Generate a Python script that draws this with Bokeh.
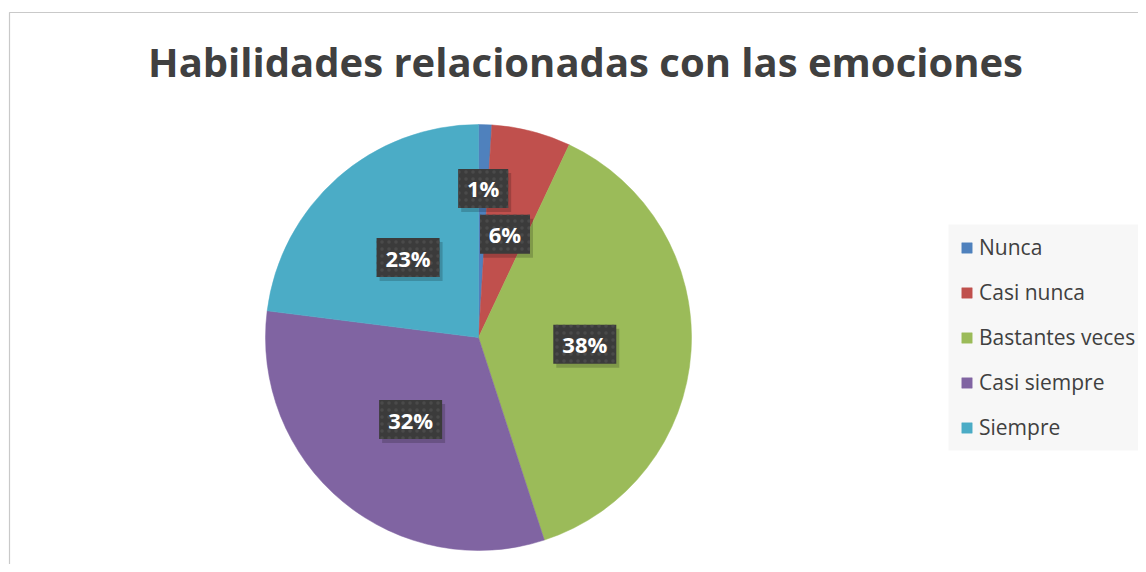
import numpy as np
from bokeh.plotting import figure
from bokeh.models import ColumnDataSource, Legend, LegendItem, Range1d
from bokeh.core.properties import value
from bokeh.embed import file_html
from bokeh.resources import INLINE

title = "Habilidades relacionadas con las emociones"
categories = ["Nunca", "Casi nunca", "Bastantes veces", "Casi siempre", "Siempre"]
percent = [1, 6, 38, 32, 23]
labels = ["1%", "6%", "38%", "32%", "23%"]
colors = ["#4F81BD", "#C0504D", "#9BBB59", "#8064A2", "#4BACC6"]
label_radius_frac = [0.70, 0.5, 0.5, 0.5, 0.5]

W, H = 1138, 564
p = figure(width=W, height=H, output_backend="svg", toolbar_location=None,
           x_range=Range1d(0, W), y_range=Range1d(0, H), min_border=0)
p.axis.visible = False
p.grid.visible = False
p.outline_line_color = None
p.background_fill_color = "white"
p.border_fill_color = "white"

# chart border
p.quad(left=[9], right=[W + 10], bottom=[-10], top=[552], fill_color=None,
       line_color="#c9c9c9", line_width=1.2)

# legend background panel
p.quad(left=[948], right=[W + 10], bottom=[114], top=[340], fill_color="#f7f7f7",
       line_color=None)

cx, cy, R = 478.0, 227.0, 213.0
vals = np.array(percent, dtype=float)
frac = vals / vals.sum()
cum_after = np.cumsum(frac)
cum_before = cum_after - frac
start = np.pi / 2 - 2 * np.pi * cum_before
end = np.pi / 2 - 2 * np.pi * cum_after
mid = (start + end) / 2

src = ColumnDataSource(dict(x=[cx] * len(vals), y=[cy] * len(vals), start=start, end=end,
                            color=colors, cat=categories))
wr = p.wedge(x="x", y="y", radius=R, start_angle="start", end_angle="end",
             direction="clock", fill_color="color", line_color="color", line_width=0.5,
             source=src)

lr = np.array(label_radius_frac) * R
lx = cx + lr * np.cos(mid)
ly = cy + lr * np.sin(mid)
bw = [24 + 13 * len(t) for t in labels]
lsrc = ColumnDataSource(dict(x=lx, y=ly, w=bw, text=labels))
lsrc_sh = ColumnDataSource(dict(x=lx + 3, y=ly - 4, w=bw))
p.rect(x="x", y="y", width="w", height=39, width_units="screen", height_units="screen",
       fill_color="black", fill_alpha=0.18, line_color=None, source=lsrc_sh)
p.rect(x="x", y="y", width="w", height=39, width_units="screen", height_units="screen",
       fill_color="#3b3b3b", line_color=None, hatch_pattern="dot", hatch_color="#4a4a4a",
       hatch_scale=7, hatch_weight=2, source=lsrc)
p.text(x="x", y="y", text="text", text_align="center", text_baseline="middle",
       text_color="white", text_font=value("Open Sans"), text_font_style="bold",
       text_font_size="22px", source=lsrc)

# title
p.text(x=[585], y=[503], text=[title], text_align="center", text_baseline="alphabetic",
       text_color="#404040", text_font=value("Open Sans"), text_font_style="bold",
       text_font_size="40px")

items = [LegendItem(label=c, renderers=[wr], index=i) for i, c in enumerate(categories)]
legend = Legend(items=items, location=(960, 123), orientation="vertical",
                background_fill_color="#f7f7f7", background_fill_alpha=0.0,
                border_line_color=None, padding=12, margin=0, spacing=17,
                glyph_width=13, glyph_height=13, label_height=20, label_standoff=6,
                label_text_font="Open Sans", label_text_font_size="21px",
                label_text_color="#404040")
p.add_layout(legend)

open("out.html", "w").write(file_html(p, INLINE))
